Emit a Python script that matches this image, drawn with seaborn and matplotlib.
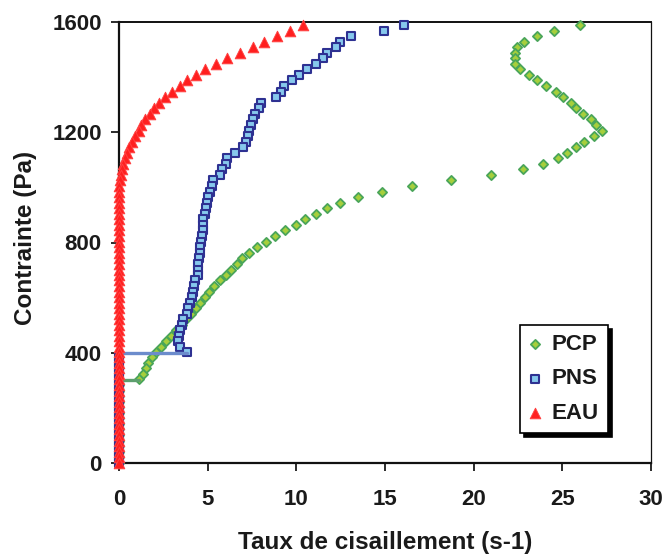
import matplotlib
matplotlib.use("Agg")
import matplotlib.pyplot as plt
import seaborn as sns
import pandas as pd

# Contrainte (Pa), shared by the three series (top to bottom)
contrainte = [1589, 1569, 1549, 1529, 1508, 1489, 1468, 1448, 1428, 1408,
              1389, 1368, 1347, 1328, 1307, 1287, 1266, 1247, 1226, 1206,
              1186, 1166, 1146, 1126, 1106, 1086, 1066, 1046, 1026, 1005,
              985, 965, 945, 925, 904, 884, 864, 844, 824, 803,
              783, 763, 743, 722, 702, 683, 663, 643, 622, 603,
              582, 562, 542, 522, 502, 482, 461, 441, 421, 403,
              384, 364, 344, 323, 303, 283, 263, 243, 223, 203,
              183, 163, 142, 122, 102, 81, 61, 41, 20, 0]

# Taux de cisaillement (s-1)
pcp = [26.0, 24.53, 23.59, 22.86, 22.43, 22.35, 22.35, 22.35, 22.63, 23.14,
       23.59, 24.10, 24.63, 25.04, 25.48, 25.76, 26.19, 26.62, 26.92, 27.26,
       26.79, 26.21, 25.76, 25.25, 24.74, 23.91, 22.77, 20.95, 18.70, 16.51,
       14.85, 13.50, 12.46, 11.75, 11.09, 10.47, 9.97, 9.35, 8.82, 8.31,
       7.78, 7.35, 6.95, 6.64, 6.32, 6.02, 5.70, 5.38, 5.10, 4.85,
       4.57, 4.33, 4.04, 3.78, 3.54, 3.21, 2.91, 2.65, 2.35, 2.09,
       1.84, 1.65, 1.52, 1.37, 1.15, 0, 0, 0, 0, 0,
       0, 0, 0, 0, 0, 0, 0, 0, 0, 0]

pns = [16.09, 14.95, 13.09, 12.45, 12.24, 11.73, 11.52, 11.11, 10.59, 10.17,
       9.76, 9.33, 9.14, 8.84, 7.99, 7.90, 7.69, 7.58, 7.46, 7.35,
       7.26, 7.14, 6.98, 6.54, 6.11, 6.02, 5.81, 5.70, 5.28, 5.23,
       5.13, 5.04, 4.94, 4.89, 4.85, 4.76, 4.76, 4.76, 4.66, 4.62,
       4.57, 4.57, 4.53, 4.47, 4.47, 4.44, 4.29, 4.25, 4.19, 4.10,
       4.00, 3.91, 3.85, 3.63, 3.54, 3.44, 3.40, 3.35, 3.44, 3.85,
       0, 0, 0, 0, 0, 0, 0, 0, 0, 0,
       0, 0, 0, 0, 0, 0, 0, 0, 0, 0]

eau = [10.36, 9.64, 8.93, 8.18, 7.56, 6.84, 6.11, 5.47, 4.87, 4.36,
       3.85, 3.42, 3.01, 2.61, 2.27, 1.96, 1.75, 1.47, 1.26, 1.13,
       0.90, 0.71, 0.55, 0.43, 0.32, 0.24, 0.17, 0.11, 0.04, 0,
       0, 0, 0, 0, 0, 0, 0, 0, 0, 0,
       0, 0, 0, 0, 0, 0, 0, 0, 0, 0,
       0, 0, 0, 0, 0, 0, 0, 0, 0, 0,
       0, 0, 0, 0, 0, 0, 0, 0, 0, 0,
       0, 0, 0, 0, 0, 0, 0, 0, 0, 0]

# yield-stress segments
seuil_pcp_x = [0, 1.15]
seuil_pcp_y = [300, 300]
seuil_pns_x = [0, 3.85]
seuil_pns_y = [400, 400]

x_ticks = [0, 5, 10, 15, 20, 25, 30]
y_ticks = [0, 400, 800, 1200, 1600]

sns.set_style("white")
plt.rcParams["font.family"] = ["Liberation Sans", "DejaVu Sans"]

fig = plt.figure(figsize=(6.68, 5.58), dpi=100)
ax = fig.add_axes([119 / 668, 1 - 463 / 558, 532 / 668, 441 / 558])

df_pcp = pd.DataFrame({"x": pcp, "y": contrainte})
df_pns = pd.DataFrame({"x": pns, "y": contrainte})
df_eau = pd.DataFrame({"x": eau, "y": contrainte})

sns.scatterplot(data=df_pcp, x="x", y="y", ax=ax, marker="D", s=22,
                color="#a6cf3c", edgecolor="#4aa55a", linewidth=1.3,
                clip_on=False, zorder=3, label="PCP")
sns.scatterplot(data=df_pns, x="x", y="y", ax=ax, marker="s", s=34,
                color="#86c8ec", edgecolor="#2e3192", linewidth=1.5,
                clip_on=False, zorder=4, label="PNS")
sns.lineplot(x=seuil_pcp_x, y=seuil_pcp_y, ax=ax, color="#5d9f6e", lw=2.4,
             sort=False, estimator=None, zorder=4.5, legend=False)
sns.lineplot(x=seuil_pns_x, y=seuil_pns_y, ax=ax, color="#6c8ccc", lw=2.4,
             sort=False, estimator=None, zorder=4.5, legend=False)
sns.scatterplot(data=df_eau, x="x", y="y", ax=ax, marker="^", s=58,
                color="#ff1f1f", edgecolor="#ff4040", linewidth=0.7,
                clip_on=False, zorder=5, label="EAU")

ax.set_xlim(0, 30)
ax.set_ylim(0, 1600)
ax.set_xticks(x_ticks)
ax.set_yticks(y_ticks)
ax.set_xticklabels([str(v) for v in x_ticks], fontweight="bold")
ax.set_yticklabels([str(v) for v in y_ticks], fontweight="bold")

for side, lw in (("left", 1.6), ("bottom", 1.6), ("top", 1.4), ("right", 0.9)):
    ax.spines[side].set_visible(True)
    ax.spines[side].set_color("#111111")
    ax.spines[side].set_linewidth(lw)

ax.tick_params(axis="x", direction="out", length=5.5, width=1.3,
               colors="#1a1a1a", labelsize=16, pad=13.5, bottom=True)
ax.tick_params(axis="y", direction="out", length=5.5, width=1.3,
               colors="#1a1a1a", labelsize=16, pad=7, left=True)

ax.set_xlabel("Taux de cisaillement (s-1)", fontsize=17.5, fontweight="bold",
              color="#1a1a1a")
ax.set_ylabel("Contrainte (Pa)", fontsize=17.5, fontweight="bold",
              color="#1a1a1a")
ax.xaxis.set_label_coords(0.5, -0.155)
ax.yaxis.set_label_coords(-0.155, 0.51)

leg = ax.legend(loc="lower right", bbox_to_anchor=(0.919, 0.068),
                borderaxespad=0, frameon=True, fancybox=False,
                prop={"size": 16, "weight": "bold"},
                shadow={"ox": 3, "oy": -3, "facecolor": "black",
                        "edgecolor": "black", "alpha": 1},
                handlelength=0.6, handletextpad=0.45, borderpad=0.4,
                labelspacing=0.62, scatterpoints=1)
leg.get_frame().set_edgecolor("black")
leg.get_frame().set_linewidth(1.2)
leg.get_frame().set_facecolor("white")
leg.get_frame().set_alpha(1)
leg.set_zorder(10)
for t in leg.get_texts():
    t.set_color("#1a1a1a")

fig.savefig("out.png", dpi=100)
